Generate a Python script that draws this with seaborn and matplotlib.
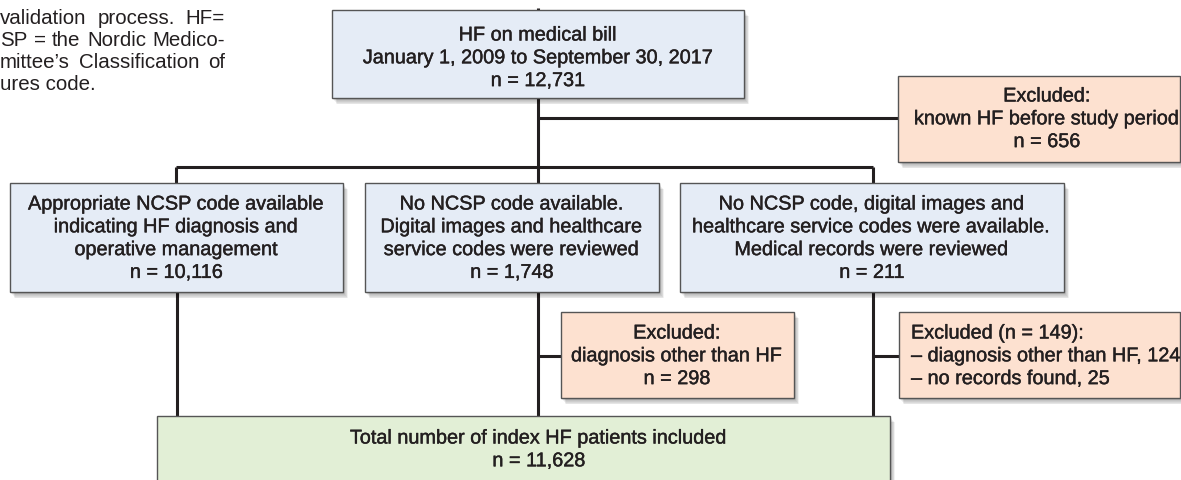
import matplotlib
matplotlib.use("Agg")
import matplotlib.pyplot as plt
import matplotlib.patheffects as pe
import seaborn as sns
from matplotlib.patches import Rectangle

# ---- chart content ----
caption_lines = [
    "validation process. HF=",
    "SP = the Nordic Medico-",
    "mittee\u2019s Classification of",
    "ures code.",
]
start_label = ["HF on medical bill", "January 1, 2009 to September 30, 2017"]
start_n = 12731
before_label = ["Excluded:", "known HF before study period"]
before_n = 656
branch_labels = [
    ["Appropriate NCSP code available", "indicating HF diagnosis and", "operative management"],
    ["No NCSP code available.", "Digital images and healthcare", "service codes were reviewed"],
    ["No NCSP code, digital images and", "healthcare service codes were available.", "Medical records were reviewed"],
]
branch_n = [10116, 1748, 211]
excl_images_label = ["Excluded:", "diagnosis other than HF"]
excl_images_n = 298
excl_records_reasons = ["diagnosis other than HF", "no records found"]
excl_records_n = [124, 25]
total_label = "Total number of index HF patients included"
total_n = 11628

BLUE = "#e5ecf6"
ORANGE = "#fde1d0"
GREEN = "#e2efd6"
INK = "#231f20"
EDGE = "#555555"
FS = 14.3
CAP_FS = 14.8
MEDIUM = [pe.withStroke(linewidth=0.3, foreground=INK)]


def n_text(v):
    return f"n = {v:,}"


def draw_box(ax, x0, x1, y0, y1, fc):
    w, h = x1 - x0, y1 - y0
    for off in [8, 7, 6, 5, 4, 3, 2]:
        ax.add_patch(Rectangle((x0 + off * 0.6, y0 + off * 0.8), w, h,
                               fc="black", alpha=0.05, lw=0, zorder=2))
    ax.add_patch(Rectangle((x0, y0), w, h, fc=fc, ec=EDGE, lw=1.0, zorder=3))


def draw_lines(ax, lines, x, y0, step=22.8, ha="center"):
    for i, s in enumerate(lines):
        ax.text(x, y0 + i * step, s, ha=ha, va="center", fontsize=FS,
                color=INK, zorder=4, path_effects=MEDIUM)


def connector(ax, xs, ys):
    ax.plot(xs, ys, color=INK, lw=2.2, solid_capstyle="butt", zorder=1)


def justified(ax, fig, words_line, x0, x1, y, last=False):
    r = fig.canvas.get_renderer()
    words = words_line.split(" ")
    if last or len(words) == 1:
        ax.text(x0, y, words_line, ha="left", va="center", fontsize=CAP_FS, color=INK)
        return
    arts = [ax.text(0, y, w, ha="left", va="center", fontsize=CAP_FS, color=INK) for w in words]
    widths = [a.get_window_extent(r).width for a in arts]
    gap = (x1 - x0 - sum(widths)) / (len(words) - 1)
    x = x0
    for a, wd in zip(arts, widths):
        a.set_x(x)
        x += wd + gap


sns.set_theme(style="white")
plt.rcParams["font.family"] = ["Liberation Sans", "DejaVu Sans"]

fig = plt.figure(figsize=(11.81, 4.80), dpi=100)
ax = fig.add_axes([0, 0, 1, 1])
ax.set_xlim(0, 1181)
ax.set_ylim(480, 0)
ax.axis("off")

# caption fragment (cropped in the source)
for i, line in enumerate(caption_lines):
    justified(ax, fig, line, 0, 225, 18 + i * 22.2, last=(i == len(caption_lines) - 1))

# connectors
connector(ax, [538, 538], [8, 416])
connector(ax, [538, 898], [118, 118])
connector(ax, [176, 873], [167, 167])
connector(ax, [176, 176], [167, 183])
connector(ax, [873, 873], [167, 416])
connector(ax, [177, 177], [292, 416])
connector(ax, [538, 561], [356, 356])
connector(ax, [873, 899], [356, 356])

# start box
draw_box(ax, 332, 744, 10, 98, BLUE)
draw_lines(ax, start_label + [n_text(start_n)], 538, 35)

# excluded before study period
draw_box(ax, 898, 1180, 76, 162, ORANGE)
draw_lines(ax, before_label + [n_text(before_n)], 1047, 96)

# three branches
branch_x = [(10, 343), (365, 659), (680, 1064)]
for (x0, x1), lab, v in zip(branch_x, branch_labels, branch_n):
    draw_box(ax, x0, x1, 183, 292, BLUE)
    draw_lines(ax, lab + [n_text(v)], (x0 + x1) / 2, 204)

# exclusions after review
draw_box(ax, 561, 794, 312, 398, ORANGE)
draw_lines(ax, excl_images_label + [n_text(excl_images_n)], 677, 333)

draw_box(ax, 899, 1180, 312, 398, ORANGE)
rec_lines = [f"Excluded (n = {sum(excl_records_n)}):"] + [
    f"\u2013 {r}, {v}" for r, v in zip(excl_records_reasons, excl_records_n)]
draw_lines(ax, rec_lines, 911, 333, ha="left")

# final cohort
draw_box(ax, 157, 890, 416, 520, GREEN)
draw_lines(ax, [total_label, n_text(total_n)], 539, 438)

fig.savefig("out.png", dpi=100)
